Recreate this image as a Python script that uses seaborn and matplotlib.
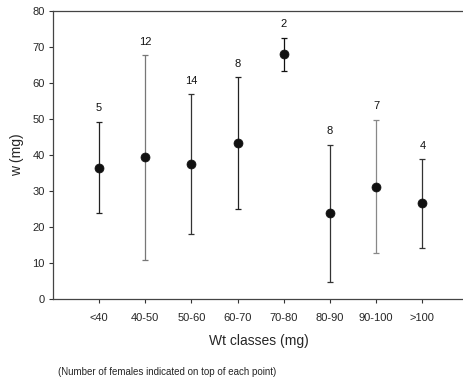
import matplotlib
matplotlib.use("Agg")
import matplotlib.pyplot as plt
import seaborn as sns
import pandas as pd

classes = ["<40", "40-50", "50-60", "60-70", "70-80", "80-90", "90-100", ">100"]
means = [36.4, 39.3, 37.4, 43.3, 67.9, 23.8, 31.1, 26.7]
upper = [49.2, 67.7, 56.8, 61.5, 72.5, 42.8, 49.8, 38.9]
lower = [23.8, 10.8, 18.0, 24.9, 63.3, 4.7, 12.8, 14.3]
n_females = [5, 12, 14, 8, 2, 8, 7, 4]
bar_colors = ["#222222", "#777777", "#333333", "#222222", "#111111", "#333333", "#888888", "#333333"]

df = pd.DataFrame({"cls": classes, "w": means, "lo": lower, "hi": upper, "n": n_females})

sns.set_style("ticks")
plt.rcParams["font.family"] = ["Liberation Sans", "DejaVu Sans"]

fig = plt.figure(figsize=(4.64, 3.82), dpi=100)
ax = fig.add_axes([0.114, 0.217, 0.886, 0.755])

for i, row in df.iterrows():
    ax.errorbar(i, row["w"], yerr=[[row["w"] - row["lo"]], [row["hi"] - row["w"]]],
                fmt="none", ecolor=bar_colors[i], elinewidth=0.9, capsize=2.2, capthick=0.9, zorder=2)
    ax.annotate(str(row["n"]), (i, row["hi"]), xytext=(0, 6), textcoords="offset points",
                ha="center", va="bottom", fontsize=8, color="#111111")

sns.scatterplot(data=df, x="cls", y="w", ax=ax, s=42, color="#111111", edgecolor="#111111",
                linewidth=0.5, zorder=3, legend=False)

ax.set_xlim(-1, 7.9)
ax.set_ylim(0, 80)
ax.set_yticks(range(0, 81, 10))
ax.set_xticks(range(len(classes)))
ax.set_xticklabels(classes)
ax.tick_params(axis="both", labelsize=8, length=3, width=0.8, color="#333333", pad=3)
ax.tick_params(axis="x", pad=7)
ax.spines["right"].set_visible(False)
for s in ["top", "left", "bottom"]:
    ax.spines[s].set_color("#444444")
    ax.spines[s].set_linewidth(0.9)

ax.set_xlabel("Wt classes (mg)", fontsize=10, labelpad=8)
ax.set_ylabel("w (mg)", fontsize=10, labelpad=6)

fig.text(58 / 464, 1 - 372 / 382, "(Number of females indicated on top of each point)",
         fontsize=7, ha="left", va="center")

fig.savefig("out.png", dpi=100)
